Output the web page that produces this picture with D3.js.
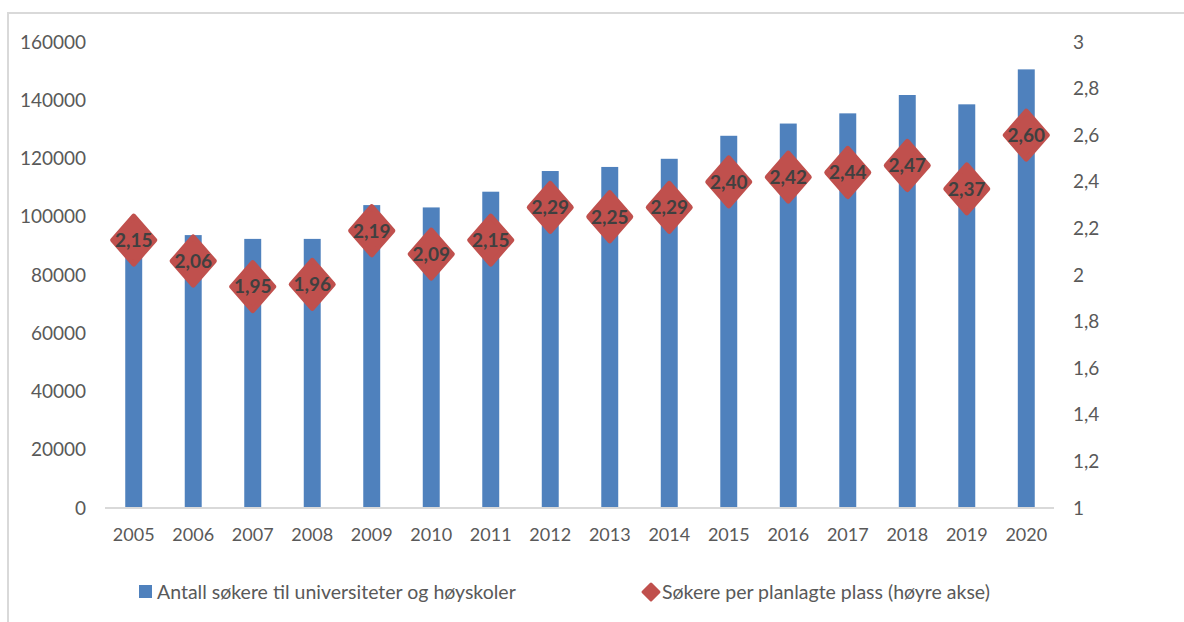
<!DOCTYPE html>
<meta charset="utf-8">
<style>
body { margin: 0; background: #fff; }
text { font-family: Lato, "Open Sans", sans-serif; }
</style>
<body>
<script src="https://cdn.jsdelivr.net/npm/d3@7"></script>
<script>

// data
var years = ["2005","2006","2007","2008","2009","2010","2011","2012","2013","2014","2015","2016","2017","2018","2019","2020"];
var applicants = [90000, 93700, 92400, 92400, 104000, 103200, 108600, 115700, 117100, 119900, 127800, 132000, 135500, 141800, 138600, 150600];
var perPlace = [2.15, 2.06, 1.95, 1.96, 2.19, 2.09, 2.15, 2.29, 2.25, 2.29, 2.40, 2.42, 2.44, 2.47, 2.37, 2.60];
var leftTicks = [0, 20000, 40000, 60000, 80000, 100000, 120000, 140000, 160000];
var rightTicks = [1, 1.2, 1.4, 1.6, 1.8, 2, 2.2, 2.4, 2.6, 2.8, 3];
var legendLabels = ["Antall søkere til universiteter og høyskoler", "Søkere per planlagte plass (høyre akse)"];

var width = 1184, height = 622;
var blue = "#4F81BD", red = "#C0504D", grey = "#595959";

var svg = d3.select("body").append("svg")
    .attr("width", width)
    .attr("height", height);

// chart border
svg.append("rect")
    .attr("x", 8).attr("y", 13)
    .attr("width", 1200).attr("height", 640)
    .attr("fill", "none")
    .attr("stroke", "#D9D9D9")
    .attr("stroke-width", 2);

var x = d3.scaleBand().domain(years).range([104, 1056]).paddingInner(0.715).paddingOuter(0.357);
var y = d3.scaleLinear().domain([0, 160000]).range([508, 42]);
var y2 = d3.scaleLinear().domain([1, 3]).range([508, 42]);

// bars
svg.selectAll(".bar")
    .data(applicants)
  .enter().append("rect")
    .attr("class", "bar")
    .attr("x", function(d, i) { return x(years[i]); })
    .attr("y", function(d) { return y(d); })
    .attr("width", x.bandwidth())
    .attr("height", function(d) { return y(0) - y(d); })
    .attr("fill", blue);

// x axis
var xAxis = svg.append("g")
    .attr("transform", "translate(0,508)")
    .call(d3.axisBottom(x).tickSize(0).tickPadding(20));
xAxis.select(".domain").attr("stroke", "#D9D9D9").attr("stroke-width", 2).attr("d", "M105,0H1054");
xAxis.selectAll("text").attr("fill", grey).style("font-size", "18px");

// left axis
var yAxis = svg.append("g")
    .attr("transform", "translate(86,0)")
    .call(d3.axisLeft(y).tickValues(leftTicks).tickSize(0).tickPadding(0).tickFormat(d3.format("d")));
yAxis.select(".domain").remove();
yAxis.selectAll("text").attr("fill", grey).style("font-size", "19px");

// right axis
var fmt = function(d) { return String(d).replace(".", ","); };
var y2Axis = svg.append("g")
    .attr("transform", "translate(1073,0)")
    .call(d3.axisRight(y2).tickValues(rightTicks).tickSize(0).tickPadding(0).tickFormat(fmt));
y2Axis.select(".domain").remove();
y2Axis.selectAll("text").attr("fill", grey).style("font-size", "19px");

// diamonds with labels
var diamond = "M0,-24L21,0L0,24L-21,0Z";
var pts = svg.selectAll(".pt")
    .data(perPlace)
  .enter().append("g")
    .attr("class", "pt")
    .attr("transform", function(d, i) {
      return "translate(" + (x(years[i]) + x.bandwidth() / 2) + "," + y2(d) + ")";
    });
pts.append("path")
    .attr("d", diamond)
    .attr("fill", red)
    .attr("stroke", red)
    .attr("stroke-width", 5)
    .attr("stroke-linejoin", "round");
pts.append("text")
    .attr("text-anchor", "middle")
    .attr("dy", "0.36em")
    .attr("fill", "#404040")
    .style("font-size", "19px")
    .style("font-weight", "bold")
    .text(function(d) { return d.toFixed(2).replace(".", ","); });

// legend
var lg = svg.append("g");
lg.append("rect")
    .attr("x", 139).attr("y", 585)
    .attr("width", 13).attr("height", 13)
    .attr("fill", blue);
lg.append("text")
    .attr("x", 157).attr("y", 592)
    .attr("dy", "0.35em")
    .attr("fill", grey)
    .style("font-size", "19.5px")
    .text(legendLabels[0]);
lg.append("path")
    .attr("d", "M0,-8L8,0L0,8L-8,0Z")
    .attr("transform", "translate(651,592)")
    .attr("fill", red)
    .attr("stroke", red)
    .attr("stroke-width", 3)
    .attr("stroke-linejoin", "round");
lg.append("text")
    .attr("x", 662).attr("y", 592)
    .attr("dy", "0.35em")
    .attr("fill", grey)
    .style("font-size", "19.5px")
    .text(legendLabels[1]);
</script>
</body>
